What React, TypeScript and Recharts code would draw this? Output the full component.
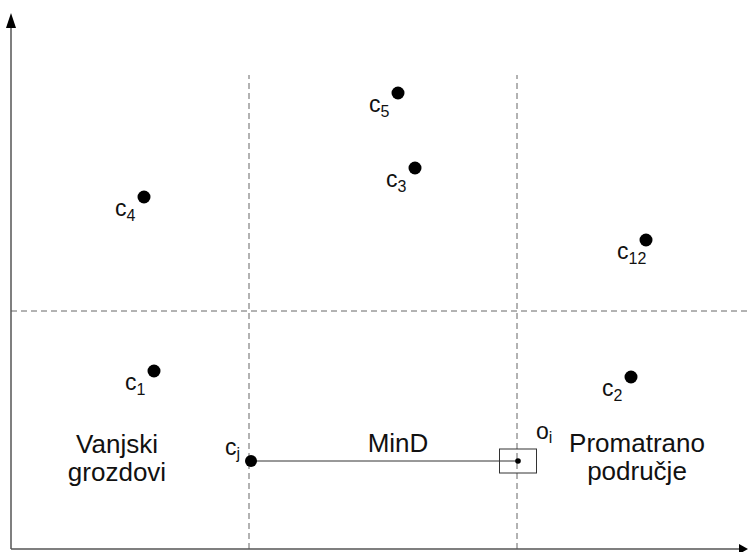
import React from 'react';
import { ScatterChart, Scatter, XAxis, YAxis, ReferenceLine, ReferenceDot } from 'recharts';

// Cluster centres (names, subscripts, x, y)
const clusterNames = ['c', 'c', 'c', 'c', 'c', 'c'];
const clusterSubs = ['4', '5', '3', '12', '1', '2'];
const clusterX = [133, 387, 404, 635, 143, 620];
const clusterY = [352, 456, 381, 309, 178, 172];

// Nearest outer cluster cj and observed object oi
const cjPoint = [{ x: 240, y: 88, name: 'c', sub: 'j' }];
const oiPoint = [{ x: 507, y: 88, name: 'o', sub: 'i' }];

// Dividing lines of the observed area
const splitX = [238, 506];
const splitY = 238;
const splitTop = 474;

// Region annotations
const annotationLines = [['Vanjski', 'grozdovi'], ['MinD'], ['Promatrano', 'područje']];
const annotationX = [106, 387, 626];
const annotationY = [96, 97, 97];

const X_MAX = 737;
const Y_MAX = 549;

const clusters = clusterNames.map((n, i) => ({ name: n, sub: clusterSubs[i], x: clusterX[i], y: clusterY[i] }));
const annotations = annotationLines.map((lines, i) => ({ lines, x: annotationX[i], y: annotationY[i] }));

const FONT = '"Liberation Sans", Arial, sans-serif';
const TEXT = '#111';

const ClusterShape = (props: any) => {
  const { cx, cy, payload } = props;
  return (
    <g>
      <circle cx={cx} cy={cy} r={6.5} fill="#000" />
      <text x={cx - 29} y={cy + 19} fontSize={23} fontFamily={FONT} fill={TEXT}>
        {payload.name}
        <tspan fontSize={16} dy={5}>{payload.sub}</tspan>
      </text>
    </g>
  );
};

const CjShape = (props: any) => {
  const { cx, cy, payload } = props;
  return (
    <g>
      <circle cx={cx} cy={cy} r={6} fill="#000" />
      <text x={cx - 26} y={cy - 6} fontSize={23} fontFamily={FONT} fill={TEXT}>
        {payload.name}
        <tspan fontSize={16} dy={4}>{payload.sub}</tspan>
      </text>
    </g>
  );
};

const OiShape = (props: any) => {
  const { cx, cy, payload } = props;
  return (
    <g>
      <rect x={cx - 18.5} y={cy - 12} width={37} height={24} fill="none" stroke="#333" strokeWidth={1} />
      <circle cx={cx} cy={cy} r={2.8} fill="#000" />
      <text x={cx + 18} y={cy - 22} fontSize={23} fontFamily={FONT} fill={TEXT}>
        {payload.name}
        <tspan fontSize={16} dy={4}>{payload.sub}</tspan>
      </text>
    </g>
  );
};

const AnnotationShape = (props: any) => {
  const { cx, cy, payload } = props;
  return (
    <text x={cx} y={cy} textAnchor="middle" fontSize={26} fontFamily={FONT} fill={TEXT}>
      {payload.lines.map((l: string, i: number) => (
        <tspan key={i} x={cx} dy={i === 0 ? 0 : 28}>{l}</tspan>
      ))}
    </text>
  );
};

const ArrowUp = (props: any) => {
  const { cx, cy } = props;
  return <polygon points={`${cx},${cy} ${cx - 5},${cy + 15} ${cx + 5},${cy + 15}`} fill="#000" />;
};

const ArrowRight = (props: any) => {
  const { cx, cy } = props;
  return <polygon points={`${cx},${cy} ${cx - 9},${cy - 5} ${cx - 9},${cy + 5}`} fill="#000" />;
};

export default function App() {
  return (
    <div style={{ position: 'absolute', left: 0, top: 0, width: 748, height: 552, background: '#fff' }}>
      <ScatterChart width={748} height={552} margin={{ top: 0, right: 0, bottom: 3, left: 11 }}>
        <XAxis type="number" dataKey="x" domain={[0, X_MAX]} allowDataOverflow hide />
        <YAxis type="number" dataKey="y" domain={[0, Y_MAX]} allowDataOverflow hide />

        <ReferenceLine y={splitY} stroke="#666" strokeWidth={1} strokeDasharray="6 4" />
        {splitX.map((sx) => (
          <ReferenceLine
            key={sx}
            segment={[{ x: sx, y: 0 }, { x: sx, y: splitTop }]}
            stroke="#666"
            strokeWidth={1}
            strokeDasharray="6 4"
          />
        ))}

        <ReferenceLine
          segment={[{ x: cjPoint[0].x, y: cjPoint[0].y }, { x: oiPoint[0].x, y: oiPoint[0].y }]}
          stroke="#333"
          strokeWidth={1}
        />

        <ReferenceLine segment={[{ x: 0, y: 0 }, { x: 0, y: 524 }]} stroke="#555" strokeWidth={1.5} />
        <ReferenceLine segment={[{ x: 0, y: 0 }, { x: 729, y: 0 }]} stroke="#555" strokeWidth={1.5} />
        <ReferenceDot x={0} y={536} r={0} shape={ArrowUp} />
        <ReferenceDot x={X_MAX} y={0} r={0} shape={ArrowRight} />

        <Scatter data={clusters} shape={ClusterShape} isAnimationActive={false} />
        <Scatter data={cjPoint} shape={CjShape} isAnimationActive={false} />
        <Scatter data={oiPoint} shape={OiShape} isAnimationActive={false} />
        <Scatter data={annotations} shape={AnnotationShape} isAnimationActive={false} />
      </ScatterChart>
    </div>
  );
}
